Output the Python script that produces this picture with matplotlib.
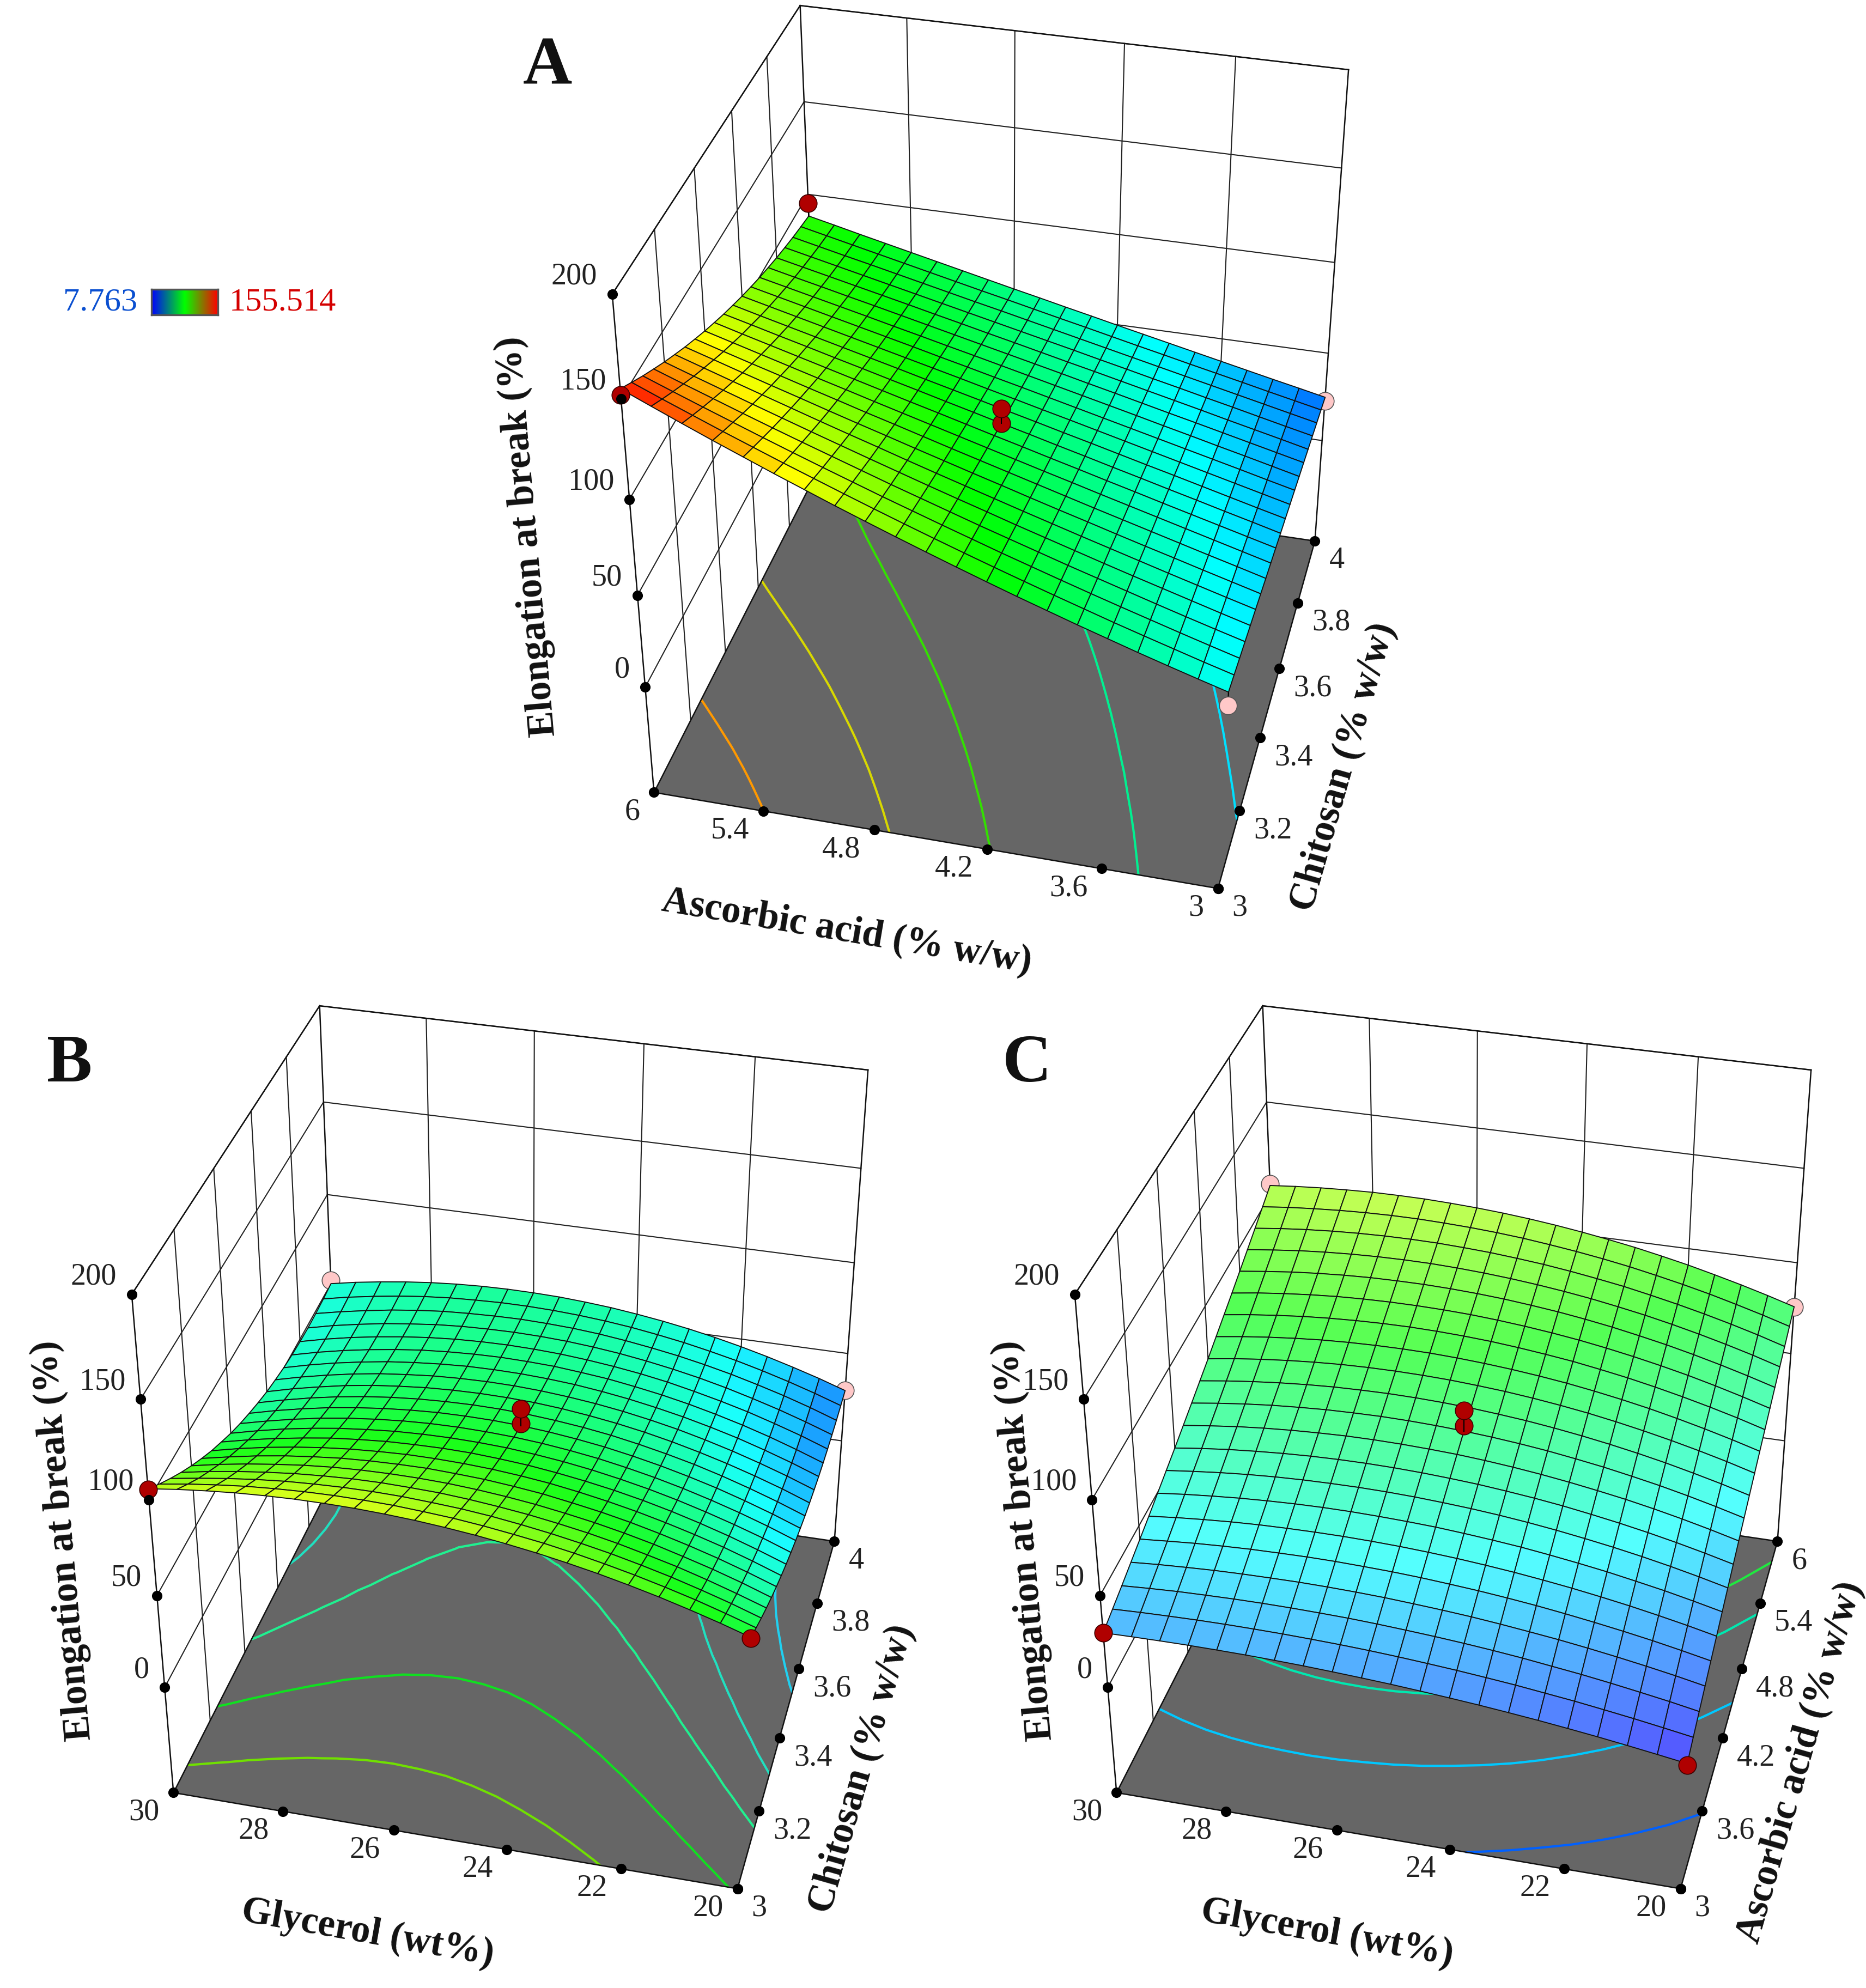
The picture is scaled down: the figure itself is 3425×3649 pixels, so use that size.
import numpy as np
import matplotlib
matplotlib.use('Agg')
import matplotlib.pyplot as plt
from matplotlib.colors import LinearSegmentedColormap, Normalize
from mpl_toolkits.mplot3d import proj3d

plt.rcParams['font.family'] = ['Liberation Serif', 'DejaVu Serif']

Z_MIN, Z_MAX = 7.763, 155.514
Z_FLOOR, Z_TOP = -60, 200
Z_TICKS = [0, 50, 100, 150, 200]

CHITOSAN = [3, 3.2, 3.4, 3.6, 3.8, 4]
ASCORBIC = [3, 3.6, 4.2, 4.8, 5.4, 6]
GLYCEROL = [20, 22, 24, 26, 28, 30]

SURF_A = [
    [48.0, 52.3, 56.7, 61.2, 65.9, 70.6, 75.5, 80.4, 85.5, 90.7, 96.0, 101.4, 106.9, 112.5, 118.3, 124.1, 130.1, 136.1, 142.3, 148.6, 155.0],
    [46.9, 51.1, 55.5, 59.9, 64.4, 69.1, 73.8, 78.6, 83.5, 88.5, 93.6, 98.8, 104.1, 109.5, 115.0, 120.5, 126.2, 131.9, 137.8, 143.7, 149.8],
    [45.7, 49.9, 54.2, 58.6, 63.0, 67.5, 72.1, 76.8, 81.5, 86.4, 91.3, 96.3, 101.3, 106.5, 111.7, 117.0, 122.4, 127.9, 133.4, 139.0, 144.7],
    [44.6, 48.7, 52.9, 57.2, 61.6, 66.0, 70.4, 75.0, 79.6, 84.2, 89.0, 93.8, 98.6, 103.6, 108.6, 113.6, 118.7, 123.9, 129.2, 134.5, 139.9],
    [43.4, 47.5, 51.7, 55.9, 60.1, 64.4, 68.8, 73.2, 77.6, 82.2, 86.7, 91.3, 96.0, 100.7, 105.5, 110.3, 115.2, 120.1, 125.1, 130.1, 135.2],
    [42.3, 46.3, 50.4, 54.5, 58.7, 62.9, 67.1, 71.4, 75.7, 80.1, 84.5, 88.9, 93.4, 98.0, 102.5, 107.1, 111.8, 116.5, 121.2, 126.0, 130.8],
    [41.1, 45.1, 49.1, 53.2, 57.2, 61.3, 65.5, 69.6, 73.8, 78.1, 82.3, 86.6, 90.9, 95.3, 99.6, 104.0, 108.5, 112.9, 117.4, 122.0, 126.5],
    [39.9, 43.9, 47.8, 51.8, 55.8, 59.8, 63.8, 67.9, 72.0, 76.1, 80.2, 84.3, 88.5, 92.7, 96.8, 101.1, 105.3, 109.6, 113.8, 118.1, 122.5],
    [38.8, 42.7, 46.6, 50.5, 54.4, 58.3, 62.2, 66.2, 70.1, 74.1, 78.1, 82.1, 86.1, 90.1, 94.1, 98.2, 102.2, 106.3, 110.4, 114.5, 118.6],
    [37.7, 41.5, 45.3, 49.1, 52.9, 56.8, 60.6, 64.5, 68.3, 72.2, 76.0, 79.9, 83.8, 87.6, 91.5, 95.4, 99.3, 103.2, 107.1, 111.0, 115.0],
    [36.5, 40.3, 44.0, 47.8, 51.5, 55.3, 59.0, 62.8, 66.5, 70.3, 74.0, 77.8, 81.5, 85.3, 89.0, 92.8, 96.5, 100.3, 104.0, 107.8, 111.5],
    [35.4, 39.0, 42.7, 46.4, 50.1, 53.7, 57.4, 61.1, 64.7, 68.4, 72.0, 75.7, 79.3, 82.9, 86.6, 90.2, 93.8, 97.4, 101.0, 104.6, 108.3],
    [34.2, 37.8, 41.4, 45.0, 48.6, 52.2, 55.8, 59.4, 63.0, 66.5, 70.1, 73.6, 77.2, 80.7, 84.2, 87.7, 91.2, 94.7, 98.2, 101.7, 105.2],
    [33.1, 36.6, 40.2, 43.7, 47.2, 50.7, 54.2, 57.7, 61.2, 64.7, 68.2, 71.6, 75.1, 78.5, 82.0, 85.4, 88.8, 92.2, 95.6, 99.0, 102.4],
    [31.9, 35.4, 38.9, 42.3, 45.8, 49.2, 52.7, 56.1, 59.5, 62.9, 66.3, 69.7, 73.1, 76.4, 79.8, 83.1, 86.5, 89.8, 93.1, 96.4, 99.7],
    [30.8, 34.2, 37.6, 41.0, 44.4, 47.7, 51.1, 54.5, 57.8, 61.2, 64.5, 67.8, 71.1, 74.4, 77.7, 81.0, 84.3, 87.5, 90.8, 94.0, 97.3],
    [29.6, 33.0, 36.3, 39.6, 43.0, 46.3, 49.6, 52.9, 56.2, 59.4, 62.7, 66.0, 69.2, 72.5, 75.7, 79.0, 82.2, 85.4, 88.6, 91.8, 95.0],
    [28.5, 31.7, 35.0, 38.3, 41.5, 44.8, 48.0, 51.3, 54.5, 57.8, 61.0, 64.2, 67.4, 70.6, 73.8, 77.0, 80.2, 83.4, 86.6, 89.8, 93.0],
    [27.3, 30.5, 33.7, 36.9, 40.1, 43.3, 46.5, 49.7, 52.9, 56.1, 59.3, 62.5, 65.7, 68.8, 72.0, 75.2, 78.4, 81.6, 84.7, 87.9, 91.1],
    [26.2, 29.3, 32.4, 35.6, 38.7, 41.8, 45.0, 48.1, 51.3, 54.5, 57.6, 60.8, 64.0, 67.1, 70.3, 73.5, 76.7, 79.9, 83.1, 86.3, 89.5],
    [25.0, 28.1, 31.1, 34.2, 37.3, 40.4, 43.5, 46.6, 49.7, 52.9, 56.0, 59.2, 62.3, 65.5, 68.7, 71.9, 75.1, 78.3, 81.5, 84.8, 88.0],
]
SURF_B = [
    [76.5, 81.3, 85.7, 89.8, 93.5, 96.9, 99.9, 102.6, 104.9, 106.9, 108.5, 109.8, 110.7, 111.3, 111.5, 111.4, 110.9, 110.1, 108.9, 107.4, 105.5],
    [71.6, 76.5, 81.1, 85.2, 89.0, 92.4, 95.5, 98.2, 100.4, 102.4, 104.0, 105.1, 106.0, 106.4, 106.5, 106.2, 105.5, 104.5, 103.0, 101.2, 99.0],
    [66.9, 72.0, 76.6, 80.9, 84.7, 88.2, 91.2, 93.9, 96.2, 98.2, 99.7, 100.7, 101.5, 101.8, 101.7, 101.2, 100.4, 99.1, 97.4, 95.3, 93.0],
    [62.5, 67.6, 72.4, 76.8, 80.6, 84.2, 87.3, 89.9, 92.2, 94.0, 95.5, 96.6, 97.1, 97.4, 97.2, 96.5, 95.5, 94.0, 92.2, 90.0, 87.3],
    [58.4, 63.7, 68.5, 72.8, 76.9, 80.4, 83.5, 86.1, 88.4, 90.2, 91.6, 92.6, 93.1, 93.2, 92.9, 92.2, 91.0, 89.3, 87.3, 84.9, 82.0],
    [54.6, 59.9, 64.8, 69.2, 73.2, 76.8, 79.9, 82.5, 84.9, 86.6, 88.0, 88.8, 89.4, 89.3, 88.9, 88.1, 86.7, 85.0, 82.8, 80.1, 77.1],
    [51.0, 56.4, 61.4, 65.8, 69.8, 73.4, 76.5, 79.2, 81.5, 83.2, 84.5, 85.3, 85.7, 85.7, 85.1, 84.2, 82.8, 80.9, 78.6, 75.8, 72.5],
    [47.7, 53.1, 58.1, 62.6, 66.7, 70.3, 73.4, 76.0, 78.2, 80.0, 81.2, 82.1, 82.4, 82.2, 81.7, 80.6, 79.2, 77.1, 74.7, 71.8, 68.5],
    [44.7, 50.2, 55.1, 59.6, 63.7, 67.3, 70.4, 73.1, 75.3, 77.0, 78.3, 79.0, 79.3, 79.1, 78.5, 77.3, 75.8, 73.7, 71.2, 68.1, 64.6],
    [41.9, 47.4, 52.4, 56.9, 61.0, 64.6, 67.7, 70.4, 72.5, 74.2, 75.4, 76.1, 76.4, 76.2, 75.5, 74.3, 72.7, 70.6, 67.9, 64.8, 61.3],
    [39.4, 44.9, 49.9, 54.5, 58.5, 62.1, 65.2, 67.9, 70.0, 71.7, 72.9, 73.6, 73.8, 73.6, 72.8, 71.6, 69.9, 67.8, 65.1, 62.0, 58.4],
    [37.1, 42.6, 47.6, 52.2, 56.3, 59.8, 62.9, 65.6, 67.7, 69.3, 70.5, 71.2, 71.4, 71.1, 70.4, 69.2, 67.5, 65.3, 62.6, 59.4, 55.8],
    [35.2, 40.7, 45.6, 50.1, 54.1, 57.7, 60.8, 63.4, 65.5, 67.2, 68.4, 69.0, 69.2, 68.9, 68.2, 66.9, 65.3, 63.1, 60.3, 57.2, 53.5],
    [33.5, 38.9, 43.8, 48.3, 52.3, 55.9, 58.9, 61.5, 63.6, 65.2, 66.4, 67.1, 67.3, 67.0, 66.3, 65.0, 63.4, 61.2, 58.5, 55.4, 51.8],
    [32.0, 37.4, 42.3, 46.8, 50.7, 54.2, 57.2, 59.8, 61.9, 63.6, 64.7, 65.4, 65.6, 65.4, 64.6, 63.4, 61.8, 59.6, 57.0, 53.9, 50.3],
    [30.8, 36.1, 41.0, 45.4, 49.3, 52.8, 55.8, 58.3, 60.5, 62.0, 63.3, 63.9, 64.2, 63.9, 63.2, 62.1, 60.4, 58.3, 55.8, 52.8, 49.3],
    [29.9, 35.2, 39.9, 44.3, 48.1, 51.5, 54.6, 57.1, 59.1, 60.7, 61.9, 62.6, 62.9, 62.7, 62.1, 61.0, 59.4, 57.4, 55.0, 52.1, 48.7],
    [29.3, 34.4, 39.1, 43.3, 47.2, 50.6, 53.5, 56.0, 58.1, 59.7, 60.9, 61.6, 61.9, 61.7, 61.2, 60.2, 58.6, 56.8, 54.4, 51.7, 48.4],
    [28.9, 34.0, 38.6, 42.7, 46.5, 49.8, 52.7, 55.1, 57.2, 58.9, 60.1, 60.8, 61.2, 61.0, 60.5, 59.7, 58.3, 56.5, 54.2, 51.6, 48.6],
    [28.8, 33.7, 38.2, 42.3, 46.0, 49.2, 52.1, 54.5, 56.6, 58.2, 59.4, 60.2, 60.6, 60.6, 60.1, 59.4, 58.2, 56.5, 54.4, 52.0, 49.1],
    [29.0, 33.8, 38.1, 42.1, 45.7, 48.9, 51.7, 54.1, 56.1, 57.8, 59.0, 59.9, 60.3, 60.4, 60.1, 59.4, 58.3, 56.8, 54.9, 52.7, 50.0],
]
SURF_C = [
    [10.0, 12.3, 14.5, 16.6, 18.5, 20.3, 21.9, 23.4, 24.7, 25.9, 27.0, 27.9, 28.7, 29.4, 29.9, 30.3, 30.5, 30.6, 30.5, 30.3, 30.0],
    [13.7, 16.2, 18.6, 20.8, 22.9, 24.7, 26.5, 28.0, 29.4, 30.6, 31.7, 32.6, 33.3, 33.8, 34.2, 34.4, 34.5, 34.4, 34.1, 33.7, 33.1],
    [17.3, 20.1, 22.6, 25.0, 27.2, 29.1, 31.0, 32.6, 34.0, 35.2, 36.2, 37.1, 37.8, 38.2, 38.5, 38.6, 38.5, 38.2, 37.8, 37.1, 36.2],
    [20.9, 23.9, 26.6, 29.1, 31.4, 33.5, 35.3, 37.0, 38.5, 39.7, 40.7, 41.6, 42.2, 42.6, 42.8, 42.7, 42.5, 42.1, 41.4, 40.6, 39.5],
    [24.5, 27.6, 30.5, 33.1, 35.5, 37.7, 39.7, 41.4, 42.9, 44.1, 45.2, 46.0, 46.5, 46.9, 47.0, 46.8, 46.5, 45.9, 45.1, 44.0, 42.8],
    [28.0, 31.3, 34.3, 37.1, 39.6, 41.9, 43.9, 45.7, 47.2, 48.5, 49.5, 50.3, 50.8, 51.1, 51.1, 50.9, 50.5, 49.8, 48.8, 47.6, 46.1],
    [31.5, 34.9, 38.1, 40.9, 43.6, 45.9, 48.0, 49.9, 51.4, 52.7, 53.8, 54.5, 55.0, 55.3, 55.3, 55.0, 54.4, 53.6, 52.5, 51.2, 49.6],
    [34.9, 38.5, 41.8, 44.8, 47.5, 49.9, 52.1, 54.0, 55.6, 56.9, 57.9, 58.7, 59.2, 59.4, 59.3, 59.0, 58.4, 57.5, 56.3, 54.8, 53.1],
    [38.3, 42.0, 45.4, 48.5, 51.3, 53.8, 56.1, 58.0, 59.6, 61.0, 62.0, 62.8, 63.3, 63.5, 63.4, 63.0, 62.3, 61.3, 60.1, 58.5, 56.6],
    [41.7, 45.5, 49.0, 52.2, 55.1, 57.6, 59.9, 61.9, 63.6, 65.0, 66.1, 66.8, 67.3, 67.5, 67.4, 66.9, 66.2, 65.2, 63.9, 62.2, 60.3],
    [45.0, 48.9, 52.5, 55.8, 58.7, 61.4, 63.7, 65.8, 67.5, 68.9, 70.0, 70.8, 71.3, 71.5, 71.3, 70.9, 70.1, 69.1, 67.7, 66.0, 64.0],
    [48.3, 52.3, 55.9, 59.3, 62.3, 65.0, 67.4, 69.5, 71.3, 72.7, 73.9, 74.7, 75.2, 75.4, 75.2, 74.8, 74.0, 72.9, 71.5, 69.8, 67.8],
    [51.5, 55.6, 59.3, 62.7, 65.8, 68.6, 71.1, 73.2, 75.0, 76.5, 77.6, 78.5, 79.0, 79.2, 79.1, 78.7, 77.9, 76.8, 75.4, 73.7, 71.6],
    [54.7, 58.8, 62.6, 66.1, 69.3, 72.1, 74.6, 76.8, 78.6, 80.1, 81.3, 82.2, 82.8, 83.0, 82.9, 82.5, 81.8, 80.7, 79.3, 77.6, 75.6],
    [57.9, 62.1, 65.9, 69.4, 72.6, 75.5, 78.0, 80.3, 82.1, 83.7, 85.0, 85.9, 86.5, 86.8, 86.7, 86.3, 85.6, 84.6, 83.2, 81.6, 79.6],
    [61.0, 65.2, 69.1, 72.7, 75.9, 78.8, 81.4, 83.7, 85.6, 87.2, 88.5, 89.5, 90.1, 90.4, 90.4, 90.1, 89.5, 88.5, 87.2, 85.6, 83.6],
    [64.1, 68.3, 72.2, 75.8, 79.1, 82.0, 84.7, 87.0, 89.0, 90.6, 92.0, 93.0, 93.7, 94.1, 94.1, 93.9, 93.3, 92.4, 91.2, 89.6, 87.8],
    [67.1, 71.4, 75.3, 78.9, 82.2, 85.2, 87.8, 90.2, 92.2, 93.9, 95.3, 96.4, 97.2, 97.7, 97.8, 97.6, 97.1, 96.3, 95.2, 93.7, 92.0],
    [70.1, 74.4, 78.3, 81.9, 85.2, 88.2, 91.0, 93.3, 95.4, 97.2, 98.6, 99.8, 100.6, 101.2, 101.4, 101.3, 100.9, 100.2, 99.2, 97.9, 96.2],
    [73.1, 77.3, 81.2, 84.9, 88.2, 91.2, 94.0, 96.4, 98.5, 100.3, 101.9, 103.1, 104.0, 104.6, 105.0, 105.0, 104.7, 104.1, 103.2, 102.1, 100.6],
    [76.0, 80.2, 84.1, 87.7, 91.1, 94.1, 96.9, 99.3, 101.5, 103.4, 105.0, 106.3, 107.3, 108.0, 108.5, 108.6, 108.5, 108.0, 107.3, 106.3, 105.0],
]

LEVELS_A = [44, 60, 85, 104, 130]
LEVELS_B = [38, 51, 62, 78, 96]
LEVELS_C = [24, 45, 62, 72]
LINE_COLORS_A = ['#00e0ff', '#00f090', '#33e000', '#d8d800', '#ff9900']
LINE_COLORS_B = ['#20d0f0', '#20e0c0', '#20f090', '#10e020', '#70e000']
LINE_COLORS_C = ['#0060ff', '#00c8ff', '#00e8b0', '#20e840']

RED_A = [(3, 6, 152), (4, 6, 95), (3.5, 4.5, 74), (3.5, 4.5, 82)]
PALE_A = [(4, 3, 23), (3, 3, 41)]
RED_B = [(3, 30, 105), (3, 20, 76), (3.5, 25, 74), (3.5, 25, 82)]
PALE_B = [(4, 30, 52), (4, 20, 29)]
RED_C = [(3, 30, 30), (3, 20, 9), (4.5, 25, 73), (4.5, 25, 81)]
PALE_C = [(6, 30, 106), (6, 20, 76)]

cmap = LinearSegmentedColormap.from_list('rsm', ['#0000ff', '#00ffff', '#00ff00', '#ffff00', '#ff0000'])
norm = Normalize(Z_MIN, Z_MAX)

W, H = 3425, 3649
fig = plt.figure(figsize=(W / 300, H / 300), dpi=300, facecolor='white')


def panel(rect, xticks, yticks, table, levels, line_colors, red, pale, pale_mix):
    ax = fig.add_axes(rect, projection='3d', computed_zorder=False)
    ax.set_axis_off()
    ax.patch.set_alpha(0)
    x0, x1 = xticks[0], xticks[-1]
    y0, y1 = yticks[0], yticks[-1]
    ax.set_xlim(x0, x1, view_margin=0)
    ax.set_ylim(y0, y1, view_margin=0)
    ax.set_zlim(Z_FLOOR, Z_TOP, view_margin=0)
    ax.set_box_aspect((1, 1, 1.03))
    ax.set_proj_type('persp', focal_length=0.6)
    ax.view_init(elev=35, azim=194, roll=0)

    # back walls
    grid = dict(color='#222222', lw=0.5, zorder=1)
    for z in Z_TICKS:
        ax.plot([x0, x1], [y1, y1], [z, z], **grid)
        ax.plot([x1, x1], [y0, y1], [z, z], **grid)
    for x in xticks[1:-1]:
        ax.plot([x, x], [y1, y1], [Z_FLOOR, Z_TOP], **grid)
    for y in yticks[1:-1]:
        ax.plot([x1, x1], [y, y], [Z_FLOOR, Z_TOP], **grid)
    edge = dict(color='#111111', lw=0.6, zorder=1)
    ax.plot([x0, x0], [y1, y1], [Z_FLOOR, Z_TOP], **edge)
    ax.plot([x1, x1], [y1, y1], [Z_FLOOR, Z_TOP], **edge)
    ax.plot([x1, x1], [y0, y0], [Z_FLOOR, Z_TOP], **edge)
    ax.plot([x0, x1], [y1, y1], [Z_TOP, Z_TOP], **edge)
    ax.plot([x1, x1], [y0, y1], [Z_TOP, Z_TOP], **edge)

    # floor and its contours
    ax.plot_surface(np.array([[x0, x1], [x0, x1]]), np.array([[y0, y0], [y1, y1]]),
                    np.full((2, 2), Z_FLOOR), color='#666666', shade=False, zorder=2)
    table = np.array(table)
    xs = np.linspace(x0, x1, table.shape[0])
    ys = np.linspace(y0, y1, table.shape[1])
    Y, X = np.meshgrid(ys, xs)
    ax.contour(X, Y, table, levels=levels, zdir='z', offset=Z_FLOOR, colors=line_colors,
               linewidths=1.0, zorder=3)
    ax.plot([x0, x1, x1, x0, x0], [y0, y0, y1, y1, y0], [Z_FLOOR] * 5, color='#111111', lw=0.6, zorder=3)

    # design points below the surface
    for px, py, pz in pale:
        zs = table[np.argmin(np.abs(xs - px)), np.argmin(np.abs(ys - py))]
        ax.plot([px, px], [py, py], [pz, zs], color='k', lw=0.5, zorder=4)
        ax.plot([px], [py], [pz], 'o', ms=7.8, mfc='#ffc8c8', mec='#555555', mew=0.4, zorder=4)

    colors = cmap(norm(table))
    colors[..., :3] = colors[..., :3] * (1 - pale_mix) + pale_mix
    ax.plot_surface(X, Y, table, facecolors=colors, rstride=1, cstride=1, shade=False,
                    edgecolor='#111111', linewidth=0.45, zorder=5)

    for px, py, pz in red:
        zs = table[np.argmin(np.abs(xs - px)), np.argmin(np.abs(ys - py))]
        ax.plot([px, px], [py, py], [pz, zs], color='k', lw=0.5, zorder=6)
        ax.plot([px], [py], [pz], 'o', ms=7.8, mfc='#b00000', mec='#400000', mew=0.4, zorder=6)

    # tick dots and labels
    M = ax.get_proj()

    def tick(x, y, z, label, dx, dy, ha):
        ax.plot([x], [y], [z], 'o', ms=3.6, color='k', zorder=7)
        px, py, _ = proj3d.proj_transform(x, y, z, M)
        ax.annotate(label, (px, py), xytext=(dx * 0.24, dy * 0.24), textcoords='offset points',
                    ha=ha, va='center', fontsize=13.5, color='#222222', annotation_clip=False)

    for y in yticks:
        tick(x0, y, Z_FLOOR, f'{y:g}', -26, -36, 'right')
    for x in xticks:
        tick(x, y0, Z_FLOOR, f'{x:g}', 26, -36, 'left')
    for z in Z_TICKS:
        tick(x0, y1, z, str(z), -28, 32, 'right')
    return ax


def shift(dx, dy):
    return [(916 + dx) / W, (1941 - dy) / H, 1786 / W, 1786 / H]


panel(shift(5, 0), CHITOSAN, ASCORBIC, SURF_A, LEVELS_A, LINE_COLORS_A, RED_A, PALE_A, 0.0)
panel(shift(-877, 1836), CHITOSAN, GLYCEROL, SURF_B, LEVELS_B, LINE_COLORS_B, RED_B, PALE_B, 0.1)
panel(shift(854, 1836), ASCORBIC, GLYCEROL, SURF_C, LEVELS_C, LINE_COLORS_C, RED_C, PALE_C, 0.33)


def label(x, y, text, rot, size=17):
    fig.text(x / 1472, 1 - y / 1568, text, rotation=rot, rotation_mode='anchor', ha='center', va='center',
             fontsize=size, fontweight='bold', color='#111111')


label(668, 735, 'Ascorbic acid (% w/w)', -9.5)
label(1060, 605, 'Chitosan (% w/w)', 74)
label(416, 423, 'Elongation at break (%)', 95)
label(290, 1525, 'Glycerol (wt%)', -10)
label(680, 1395, 'Chitosan (% w/w)', 74)
label(50, 1215, 'Elongation at break (%)', 95)
label(1047, 1525, 'Glycerol (wt%)', -10)
label(1420, 1390, 'Ascorbic acid (% w/w)', 74)
label(808, 1215, 'Elongation at break (%)', 95)
label(432, 53, 'A', 0, 30)
label(55, 840, 'B', 0, 30)
label(810, 840, 'C', 0, 30)

# colour key
key = fig.add_axes([278 / W, 1 - 578 / H, 122 / W, 47 / H])
key_cmap = LinearSegmentedColormap.from_list('key', ['#0000ff', '#00ff00', '#ff0000'])
key.imshow(np.linspace(0, 1, 256)[None, :], aspect='auto', cmap=key_cmap)
key.set_xticks([])
key.set_yticks([])
for s in key.spines.values():
    s.set_color('#555555')
    s.set_linewidth(0.8)
fig.text(252 / W, 1 - 556 / H, f'{Z_MIN:.3f}', ha='right', va='center', fontsize=14.5, color='#0a4fd0')
fig.text(421 / W, 1 - 556 / H, f'{Z_MAX:.3f}', ha='left', va='center', fontsize=14.5, color='#d40000')

fig.savefig('out.png', dpi=300)
